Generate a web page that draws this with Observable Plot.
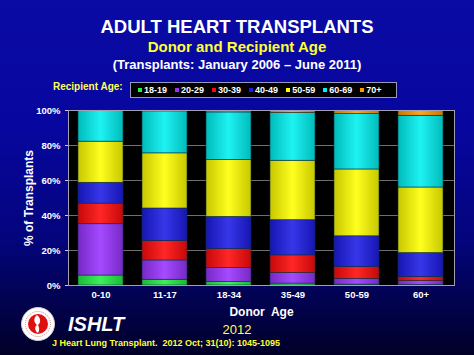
<!DOCTYPE html>
<html><head><meta charset="utf-8">
<script src="https://cdn.jsdelivr.net/npm/d3@7"></script>
<script src="https://cdn.jsdelivr.net/npm/@observablehq/plot@0.6"></script>
<style>
html,body{margin:0;padding:0;}
#page{position:relative;width:474px;height:355px;overflow:hidden;
 background:linear-gradient(180deg,#0a0aa4 0%,#0707a0 35%,#04047c 68%,#000028 100%);
 font-family:"Liberation Sans",Arial,sans-serif;font-weight:bold;}
.t{position:absolute;left:0;width:474px;text-align:center;white-space:nowrap;}
#chart{position:absolute;left:0;top:95px;}
#legend{position:absolute;left:130px;top:82px;width:265px;height:14px;background:#000;border:1px solid #9a9ab8;
 display:flex;align-items:center;font-size:9px;color:#fff;}
#legend span.i{display:inline-flex;align-items:center;margin-left:8px;}
#legend span.i:first-child{margin-left:7px;}
#legend b{display:inline-block;width:4px;height:4px;margin-right:2px;}
</style></head>
<body><div id="page">
<div class="t" style="top:16px;font-size:18.5px;color:#fff;">ADULT HEART TRANSPLANTS</div>
<div class="t" style="top:38px;font-size:15px;color:#ffff33;">Donor and Recipient Age</div>
<div class="t" style="top:57px;font-size:13px;color:#fff;">(Transplants: January 2006 – June 2011)</div>
<div style="position:absolute;left:53px;top:81px;font-size:10px;color:#ffff55;">Recipient Age:</div>
<div id="legend"></div>
<div id="chart"></div>
<svg style="position:absolute;left:20px;top:306px" width="36" height="36">
 <circle cx="18" cy="18" r="16.5" fill="#fff" stroke="#ccc" stroke-width="1"/>
 <circle cx="18" cy="18" r="12.5" fill="none" stroke="#d03030" stroke-width="0.6" stroke-dasharray="1 1"/>
 <circle cx="18" cy="18" r="10" fill="#e01010"/>
 <path d="M17 9 C13 12 14 17 17 19 C14 21 15 25 18 27 C20 24 19 21 18 19 C21 17 21 12 17 9Z" fill="#fff"/>
</svg>
<div style="position:absolute;left:68px;top:313px;font-size:20px;font-style:italic;color:#fff;">ISHLT</div>
<div class="t" style="top:322px;font-size:13px;font-weight:normal;color:#ffff55;">2012</div>
<div style="position:absolute;left:52px;top:338px;font-size:9px;color:#ffff33;">J Heart Lung Transplant.&nbsp; 2012 Oct; 31(10): 1045-1095</div>
</div>
<script>
const donorAges = ["0-10","11-17","18-34","35-49","50-59","60+"];
const recipientAges = ["18-19","20-29","30-39","40-49","50-59","60-69","70+"];
const colors = ["#22ee44","#9933ff","#ff0a0a","#1c1ce6","#ffff00","#00f0f0","#ff9900"];
// percent of transplants per recipient group, one array per donor age group
const pct_0_10  = [5.7, 29.3, 11.8, 11.9, 23.5, 17.8, 0.0];
const pct_11_17 = [3.3, 11.0, 11.1, 18.6, 31.5, 24.0, 0.5];
const pct_18_34 = [1.9, 8.2, 10.7, 18.4, 32.5, 27.2, 1.1];
const pct_35_49 = [1.1, 6.0, 10.1, 20.1, 34.0, 27.2, 1.5];
const pct_50_59 = [0.5, 3.3, 6.7, 17.6, 38.2, 31.6, 2.1];
const pct_60p   = [0.3, 2.2, 2.3, 13.7, 37.5, 41.0, 3.0];
const yTicks = [0,20,40,60,80,100];

const series = [pct_0_10,pct_11_17,pct_18_34,pct_35_49,pct_50_59,pct_60p];
const data = [];
donorAges.forEach((d,i)=>recipientAges.forEach((r,j)=>data.push({donor:d,recip:r,value:series[i][j]})));

// legend
const lg = document.getElementById("legend");
recipientAges.forEach((r,j)=>{
  const s=document.createElement("span");s.className="i";
  s.innerHTML=`<b style="background:${colors[j]}"></b>${r}`;lg.appendChild(s);
});

const gradIds = colors.map((c,j)=>`url(#barg${j})`);

const chart = Plot.plot({
  width: 474, height: 225,
  marginLeft: 68, marginRight: 20, marginTop: 15, marginBottom: 35,
  style: {background: "transparent", color: "#fff", fontFamily: "Liberation Sans, Arial, sans-serif", fontWeight: "bold", fontSize: "9.5px"},
  x: {domain: donorAges, paddingInner: 0.29, paddingOuter: 0.14},
  y: {domain: [0,100]},
  color: {type: "ordinal", domain: recipientAges, range: gradIds},
  marks: [
    Plot.frame({fill: "#000", stroke: "none"}),
    Plot.gridY(yTicks, {stroke: "#8a8a8a", strokeOpacity: 1, strokeWidth: 0.8}),
    Plot.barY(data, {x: "donor", y: "value", fill: "recip", order: recipientAges, stroke: "#103040", strokeWidth: 0.6}),
    Plot.frame({stroke: "#a0a0b0", strokeWidth: 1}),
    Plot.axisY({ticks: yTicks, tickFormat: d => d + "%", label: "% of Transplants", labelArrow: "none", labelAnchor: "center", labelOffset: 44, tickSize: 3, tickPadding: 5, stroke: "#ccc"}),
    Plot.axisX({label: "Donor  Age", labelArrow: "none", labelAnchor: "center", labelOffset: 30, tickSize: 0, tickPadding: 6})
  ]
});
// gradients for bar shading (lighter in the middle)
const ns = "http://www.w3.org/2000/svg";
const defs = document.createElementNS(ns, "defs");
colors.forEach((c,j)=>{
  const g = document.createElementNS(ns, "linearGradient");
  g.setAttribute("id", `barg${j}`); g.setAttribute("x1","0"); g.setAttribute("x2","1"); g.setAttribute("y1","0"); g.setAttribute("y2","0");
  const dark = d3.interpolateRgb(c, "#000")(0.22);
  [[0,dark],[0.5,d3.interpolateRgb(c,"#fff")(0.12)],[1,dark]].forEach(([o,col])=>{
    const s = document.createElementNS(ns,"stop"); s.setAttribute("offset",o); s.setAttribute("stop-color",col); g.appendChild(s);
  });
  defs.appendChild(g);
});
chart.insertBefore(defs, chart.firstChild);
chart.querySelectorAll("[aria-label='y-axis label'] text, [aria-label='x-axis label'] text").forEach(t=>t.setAttribute("font-size","12px"));
document.getElementById("chart").appendChild(chart);
</script>
</body></html>
